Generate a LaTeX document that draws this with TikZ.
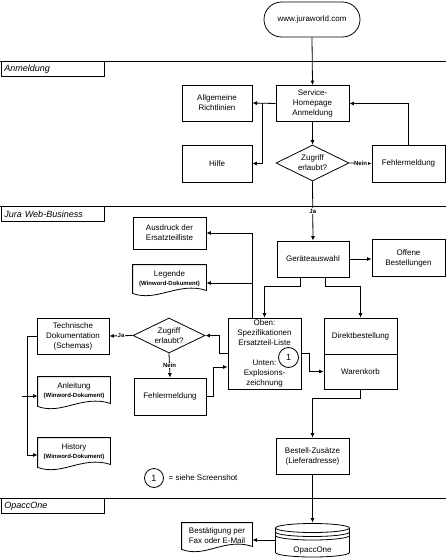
\documentclass[tikz,border=0pt]{standalone}
\usepackage{fontspec}
\setmainfont{Liberation Sans}
\usetikzlibrary{arrows.meta,shapes.geometric,shapes.misc}
\newcommand\smalldoc{\fontsize{6}{7}\selectfont\bfseries}
\newcommand\docwave[1]{\draw (#1.north west) -- (#1.north east) -- ([yshift=2pt]#1.south east) .. controls +(-28,-9) and +(24,9) .. ([yshift=-1pt]#1.south west) -- cycle;}
\begin{document}
\begin{tikzpicture}[x=1pt,y=-1pt,line width=0.8pt,
  every node/.style={font=\fontsize{8}{10}\selectfont},
  box/.style={draw, rectangle, minimum width=73pt, minimum height=36pt, inner sep=1pt, align=center},
  dia/.style={draw, diamond, shape aspect=2, minimum width=73pt, minimum height=36pt, inner sep=0pt, align=center},
  term/.style={draw, rounded rectangle, minimum width=98pt, minimum height=35pt, inner sep=1pt},
  doc/.style={rectangle, minimum width=73pt, minimum height=27pt, inner sep=1pt, align=center},
  db/.style={rectangle, minimum width=74pt, minimum height=34pt, inner sep=0pt, text height=25pt, text depth=0pt},
  num/.style={draw, circle, minimum size=20pt, inner sep=0pt, font=\fontsize{9}{10}\selectfont},
  lanelabel/.style={draw, anchor=north west, minimum width=103pt, minimum height=15pt, text width=97pt, inner sep=3pt, align=left, font=\fontsize{9}{10}\selectfont\itshape},
  lane/.style={line width=0.8pt},
  arr/.style={-{Latex[length=4.5pt,width=4pt]}},
  lbl/.style={fill=white, inner sep=0.5pt, font=\fontsize{6}{7}\selectfont\bfseries}]
\useasboundingbox (0,0) rectangle (446,560);

% swimlanes
\draw[lane] (0,61) -- (446,61);
\draw[lane] (0,206) -- (446,206);
\draw[lane] (0,498) -- (446,498);
\node[lanelabel] (lane1) at (1,61) {Anmeldung};
\node[lanelabel] (lane2) at (1,206) {Jura Web-Business};
\node[lanelabel] (lane3) at (1,498) {OpaccOne};

% nodes
\node[term] (www) at (312,19.5) {www.juraworld.com};
\node[box] (service) at (312.5,103.5) {Service-\\Homepage\\Anmeldung};
\node[box, minimum width=70pt] (allg) at (217,103) {Allgemeine\\Richtlinien};
\node[box, minimum width=70pt, minimum height=37pt] (hilfe) at (217,163.5) {Hilfe};
\node[dia] (dia1) at (312.5,163) {Zugriff\\erlaubt?};
\node[box, minimum height=37pt] (fehl1) at (408.5,163.5) {Fehlermeldung};
\node[box, minimum width=72pt] (geraet) at (313,259) {Geräteauswahl};
\node[box, minimum height=37pt] (offen) at (408.5,258) {Offene\\Bestellungen};
\node[box, minimum height=32pt] (ausdruck) at (169.5,233) {Ausdruck der\\Ersatzteilliste};
\node[doc] (legende) at (169.5,278.5) {Legende\\[-1pt]{\smalldoc (Winword-Dokument)}};
\node[box, minimum height=71pt] (oben) at (264.5,353.5) {Oben:\\Spezifikationen\\Ersatzteil-Liste\\[10pt]Unten:\\Explosions-\\zeichnung};
\node[box] (direkt) at (360.5,336) {Direktbestellung};
\node[box, minimum height=35pt] (waren) at (360.5,371.5) {Warenkorb};
\node[box, minimum width=72pt] (techn) at (73,336) {Technische\\Dokumentation\\(Schemas)};
\node[dia, minimum width=72pt, minimum height=35pt] (dia2) at (169,335.5) {Zugriff\\erlaubt?};
\node[box, minimum width=72pt, minimum height=37pt] (fehl2) at (170,396.5) {Fehlermeldung};
\node[doc, minimum width=72pt, minimum height=28pt] (anl) at (74,391) {Anleitung\\[-1pt]{\smalldoc (Winword-Dokument)}};
\node[doc, minimum width=72pt, minimum height=28pt] (hist) at (74,452) {History\\[-1pt]{\smalldoc (Winword-Dokument)}};
\node[box] (bestell) at (312.5,456) {Bestell-Zusätze\\(Lieferadresse)};
\node[doc, minimum width=70pt, minimum height=25pt] (best) at (217,535.5) {Bestätigung per\\Fax oder E-Mail};
\node[db] (opacc) at (312.5,540) {OpaccOne};
\node[num] (c1) at (288.5,357.5) {1};
\node[num, minimum size=19pt] (c2) at (154,478) {1};
\node[anchor=west] (legtxt) at (165,478) {= siehe Screenshot};

% document shapes
\docwave{legende}
\docwave{anl}
\docwave{hist}
\docwave{best}

% database shape
\draw (312.5,528) ellipse [x radius=37pt, y radius=4.5pt];
\draw (275.5,532) arc[start angle=180, end angle=360, x radius=37pt, y radius=4.5pt];
\draw (275.5,535.5) arc[start angle=180, end angle=360, x radius=37pt, y radius=4.5pt];
\draw (275.5,528) -- (275.5,552.5);
\draw (349.5,528) -- (349.5,552.5);
\draw (275.5,552.5) arc[start angle=180, end angle=360, x radius=37pt, y radius=4.5pt];

% junction coordinates
\coordinate (j1) at (262,103);
\coordinate (j2) at (252,283);
\coordinate (j3) at (28,396);

% connectors
\draw[arr] (www.south) -- (service.north);
\draw[arr] (service.west) -- (allg.east);
\draw[arr] (j1) |- (hilfe.east);
\draw[arr] (service.south) -- (dia1.north);
\draw[arr] (dia1.east) -- node[lbl] {Nein} (fehl1.west);
\draw[arr] (fehl1.north) |- (service.east);
\draw[arr] (dia1.south) -- node[lbl, pos=0.5] {Ja} (geraet.north);
\draw[arr] (geraet.east) -- (geraet.east -| offen.west);
\draw[arr] ([xshift=-13pt]geraet.south) -- ++(0,9) -| (oben.north);
\draw[arr] ([xshift=12pt]geraet.south) -- ++(0,9) -| (direkt.north);
\draw[arr] ([xshift=-12.5pt]oben.north) |- (ausdruck.east);
\draw[arr] (j2) -- (j2 -| legende.east);
\draw[arr] (oben.west) -- ++(-8,0) |- (dia2.east);
\draw[arr] (fehl2.east) -- ++(7,0) |- ([yshift=-13.5pt]oben.west);
\draw[arr] (dia2.west) -- node[lbl] {Ja} (techn.east);
\draw[arr] (dia2.south) -- node[lbl] {Nein} (fehl2.north);
\draw[arr] (techn.west) -- ++(-9,0) |- (hist.west |- 0,455);
\draw[arr] ([xshift=-6pt]j3) -- (j3 -| anl.west);
\draw[arr] (oben.east) -- ++(8,0) |- (waren.west);
\draw[arr] (waren.south) -- ++(0,9) -| (bestell.north);
\draw[arr] (bestell.south) -- (opacc.north);
\draw[arr] (opacc.west) -- (opacc.west -| best.east);
\end{tikzpicture}
\end{document}
